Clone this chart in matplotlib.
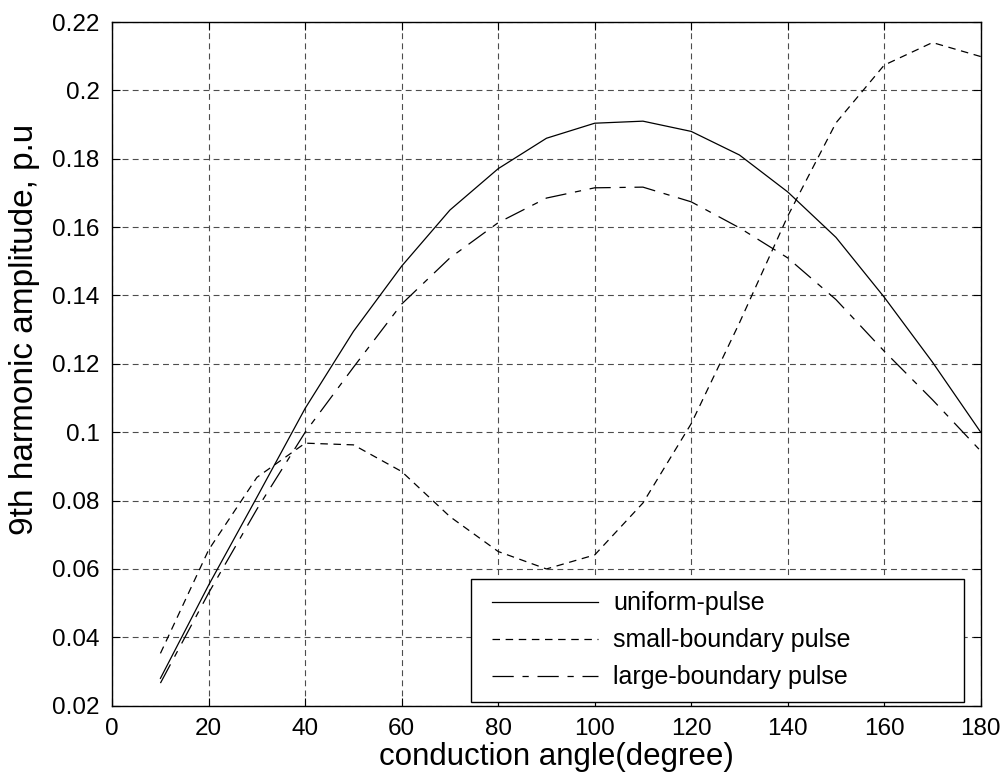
import matplotlib
matplotlib.use("Agg")
import matplotlib.pyplot as plt
from matplotlib.ticker import FuncFormatter
from matplotlib.legend_handler import HandlerLine2D
from matplotlib.lines import Line2D

plt.rcParams['font.family'] = ['Liberation Sans', 'DejaVu Sans']

angle = [10, 20, 30, 40, 50, 60, 70, 80, 90, 100, 110, 120, 130, 140, 150, 160, 170, 180]
uniform = [0.028, 0.0553, 0.081, 0.107, 0.1295, 0.1486, 0.165, 0.1771, 0.186, 0.1904,
           0.191, 0.188, 0.1811, 0.1703, 0.157, 0.1395, 0.1205, 0.100]
small_boundary = [0.0353, 0.0656, 0.0868, 0.0968, 0.0963, 0.0885, 0.0753, 0.0651, 0.0600,
                  0.0641, 0.0793, 0.1025, 0.132, 0.1632, 0.1905, 0.2074, 0.214, 0.2099]
large_boundary = [0.0266, 0.053, 0.0775, 0.100, 0.119, 0.1375, 0.151, 0.1613, 0.1685,
                  0.1715, 0.1717, 0.1674, 0.1598, 0.151, 0.1388, 0.1237, 0.1095, 0.0945]
labels = ['uniform-pulse', 'small-boundary pulse', 'large-boundary pulse']
xticks = list(range(0, 181, 20))
yticks = [0.02, 0.04, 0.06, 0.08, 0.1, 0.12, 0.14, 0.16, 0.18, 0.2, 0.22]

fig = plt.figure(figsize=(10.07, 7.84), dpi=100)
ax = fig.add_axes([0.1114, 0.0999, 0.8625, 0.872])

lw = 0.9
ax.plot(angle, uniform, color='black', lw=lw, linestyle='-', label=labels[0])
ax.plot(angle, small_boundary, color='black', lw=lw, linestyle=(0, (6.0, 4.5)), label=labels[1])
ax.plot(angle, large_boundary, color='black', lw=lw, linestyle=(0, (17, 7, 5, 7)), label=labels[2])

ax.set_xlim(0, 180)
ax.set_ylim(0.02, 0.22)
ax.set_xticks(xticks)
ax.set_yticks(yticks)
ax.yaxis.set_major_formatter(FuncFormatter(lambda v, p: '%g' % round(v, 4)))

ax.grid(True, color='0.3', linestyle=(0, (5.3, 3.8)), linewidth=0.8)
ax.tick_params(direction='in', length=6, width=0.8, top=True, right=True,
               labelsize=17.5, pad=9, colors='black')
for s in ax.spines.values():
    s.set_linewidth(1.0)
    s.set_color('black')

fig.text(0.553, 0.0155, 'conduction angle(degree)', fontsize=22.5, ha='center', va='bottom')
fig.text(0.0245, 0.58, '9th harmonic amplitude, p.u', fontsize=24, rotation=90,
         ha='center', va='center')

leg = ax.legend(loc='lower left', bbox_to_anchor=(0.413, 0.0054, 0.568, 0.18), mode='expand',
                borderaxespad=0, fontsize=18, handlelength=4.58, handletextpad=0.6,
                labelspacing=0.52, borderpad=0.5, fancybox=False, framealpha=1,
                edgecolor='black',
                handler_map={Line2D: HandlerLine2D(xpad=0.34)})
leg.get_frame().set_linewidth(1.0)

fig.savefig('out.png', dpi=100)
